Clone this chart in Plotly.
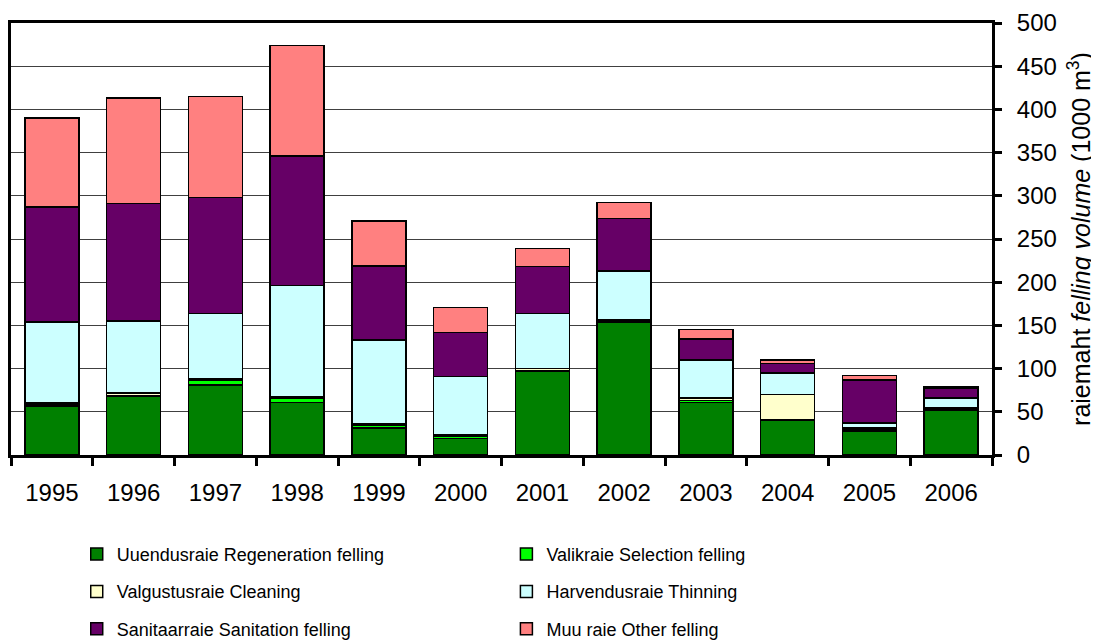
import plotly.graph_objects as go

years = ["1995", "1996", "1997", "1998", "1999", "2000", "2001", "2002", "2003", "2004", "2005", "2006"]
regeneration = [57, 68, 81, 61, 31, 19, 97, 154, 61, 40, 28, 52]
selection = [1, 1, 6, 5, 4, 3, 1, 1, 2, 1, 2, 1]
cleaning = [2, 3, 1, 2, 1, 1, 2, 2, 3, 29, 2, 2]
thinning = [94, 83, 76, 128, 97, 68, 64, 56, 44, 25, 5, 11]
sanitation = [133, 136, 134, 150, 86, 51, 54, 61, 24, 11, 50, 11]
other = [103, 122, 117, 128, 52, 29, 21, 18.5, 11, 4, 5, 1.5]

series = [
    ("Uuendusraie Regeneration felling", regeneration, "#008000", "legend"),
    ("Valikraie Selection felling", selection, "#00FF00", "legend2"),
    ("Valgustusraie Cleaning", cleaning, "#FFFFCC", "legend"),
    ("Harvendusraie Thinning", thinning, "#CCFFFF", "legend2"),
    ("Sanitaarraie Sanitation felling", sanitation, "#660066", "legend"),
    ("Muu raie Other felling", other, "#FF8080", "legend2"),
]

FONT = "Liberation Sans, Arial, sans-serif"

fig = go.Figure()
for i, (name, vals, color, leg) in enumerate(series):
    fig.add_trace(go.Bar(
        x=years, y=vals, name=name,
        legend=leg, legendgroup="g%d" % i,
        marker=dict(color=color, line=dict(color="black", width=1.5)),
    ))

legend_common = dict(
    orientation="v",
    yanchor="top",
    font=dict(family=FONT, size=18, color="black"),
    traceorder="grouped",
    tracegroupgap=11,
    bgcolor="rgba(0,0,0,0)",
)

# page body has an 8px margin; figure is sized so the plot area lands where the reference has it
fig.update_layout(
    barmode="stack",
    bargap=0.34,
    width=1091, height=633,
    margin=dict(l=3, r=107, t=15, b=186, autoexpand=False),
    paper_bgcolor="white",
    plot_bgcolor="white",
    font=dict(family=FONT, color="black", size=24),
    showlegend=True,
    legend=dict(x=0.067, xanchor="left", y=-0.187, **legend_common),
    legend2=dict(x=0.505, xanchor="left", y=-0.187, **legend_common),
    xaxis=dict(
        type="category",
        automargin=False,
        showline=True, linecolor="black", linewidth=3,
        mirror=True,
        ticks="outside", tickson="boundaries", ticklen=8, tickwidth=3, tickcolor="black",
        tickfont=dict(size=24, family=FONT),
        ticklabelstandoff=14,
        showgrid=False,
    ),
    yaxis=dict(
        side="right",
        automargin=False,
        range=[0, 500], dtick=50,
        showline=True, linecolor="black", linewidth=3,
        mirror=True,
        ticks="outside", ticklen=7, tickwidth=3, tickcolor="black",
        tickfont=dict(size=24, family=FONT),
        ticklabelstandoff=10,
        showgrid=True, gridcolor="#404040", gridwidth=1,
        zeroline=False,
        title=dict(text="raiemaht <i>felling volume</i> (1000 m<sup>3</sup>)",
                   font=dict(size=25, family=FONT), standoff=17),
    ),
)

fig.write_html("out.html")
